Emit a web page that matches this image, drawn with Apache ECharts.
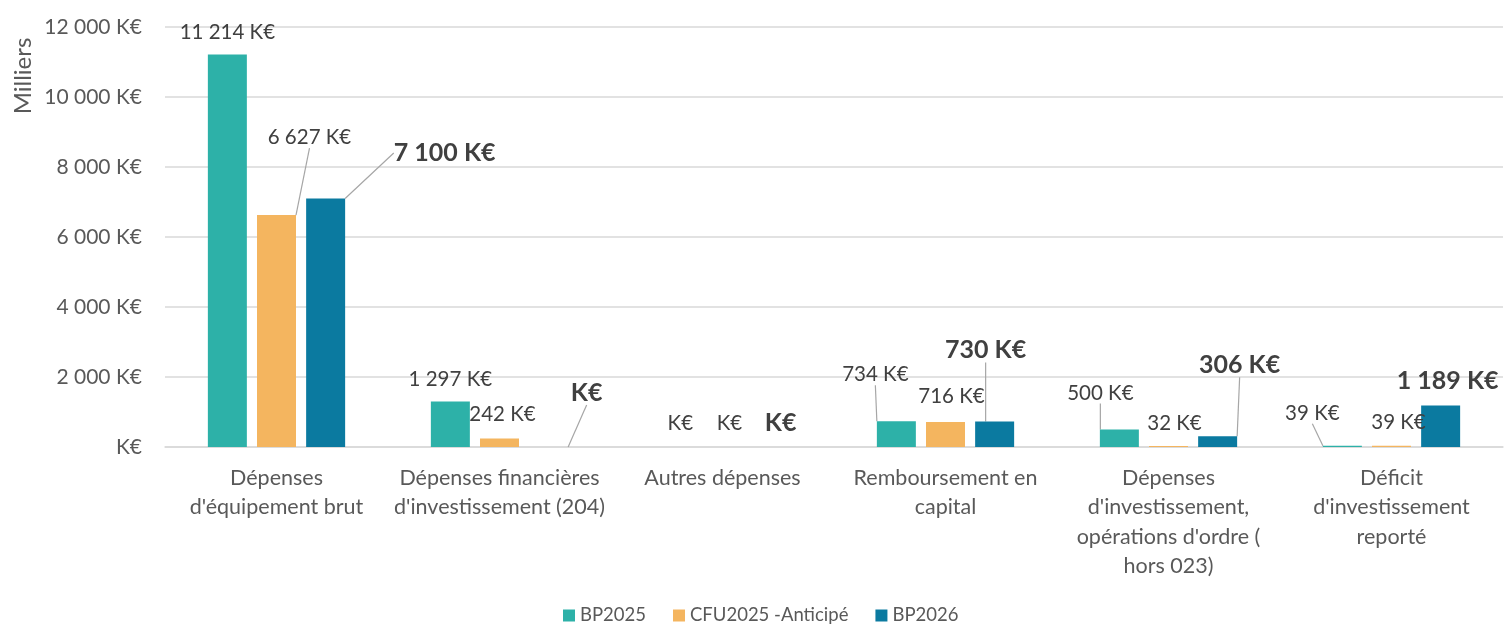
<!DOCTYPE html>
<html><head><meta charset="utf-8">
<script src="https://cdn.jsdelivr.net/npm/echarts@6/dist/echarts.min.js"></script>
<style>html,body{margin:0;padding:0;background:#fff}#c{width:1504px;height:626px}</style>
</head><body><div id="c"></div>
<script>
const categories = [
  "Dépenses\nd'équipement brut",
  "Dépenses financières\nd'investissement (204)",
  "Autres dépenses",
  "Remboursement en\ncapital",
  "Dépenses\nd'investissement,\nopérations d'ordre (\nhors 023)",
  "Déficit\nd'investissement\nreporté"
];
const seriesNames = ["BP2025", "CFU2025 -Anticipé", "BP2026"];
const bp2025 = [11214, 1297, 0, 734, 500, 39];
const cfu2025 = [6627, 242, 0, 716, 32, 39];
const bp2026 = [7100, 0, 0, 730, 306, 1189];
const yTicks = {min: 0, max: 12000, interval: 2000};

// label offsets (style only): [dx, dy, leaderLine]
const labelOffsets = [
  [[0,-7,0],[0,-7,0],[7,-8,0],[-21,-31,1],[-19,-21,1],[-30,-17,1]],
  [[33,-62,1],[3,-9,0],[7,-8,0],[6,-10,0],[6,-7,0],[7,-8,0]],
  [[119,-28,1],[38,-37,1],[9,-7,0],[-9,-54,1],[22,-54,1],[7,-7,0]]
];
const colors = ['#2DB1A8', '#F4B55F', '#0B7AA0'];
const FONT = 'Lato';

function fmt(v) {
  if (v === 0) return 'K€';
  return String(Math.round(v)).replace(/\B(?=(\d{3})+(?!\d))/g, ' ') + ' K€';
}

const values = [bp2025, cfu2025, bp2026];
const series = values.map((arr, si) => ({
  name: seriesNames[si],
  type: 'bar',
  barWidth: 39,
  barGap: '26%',
  itemStyle: {color: colors[si]},
  data: arr.map((v, i) => ({
    value: v,
    labelLine: {show: !!labelOffsets[si][i][2], lineStyle: {color: '#a6a6a6', width: 1.2}}
  })),
  label: {
    show: true, position: 'top', distance: 5,
    formatter: p => fmt(p.value),
    fontFamily: FONT,
    fontSize: si === 2 ? 25 : 20.5,
    fontWeight: si === 2 ? 'bold' : 'normal',
    color: '#404040'
  },
  labelLine: {show: false, lineStyle: {color: '#a6a6a6', width: 1.2}},
  labelLayout: p => ({dx: labelOffsets[si][p.dataIndex][0], dy: labelOffsets[si][p.dataIndex][1]})
}));

const chart = echarts.init(document.getElementById('c'));
chart.setOption({
  animation: false,
  textStyle: {fontFamily: FONT},
  grid: {left: 165, right: 1, top: 27, bottom: 179, containLabel: false},
  legend: {
    top: 601, left: 558, icon: 'rect', itemWidth: 12, itemHeight: 12, itemGap: 27,
    textStyle: {fontFamily: FONT, fontSize: 18.5, color: '#595959'},
    data: seriesNames
  },
  xAxis: {
    type: 'category', data: categories,
    axisTick: {show: false},
    axisLine: {lineStyle: {color: '#d9d9d9', width: 1.5}},
    axisLabel: {interval: 0, fontFamily: FONT, fontSize: 21.5, lineHeight: 29.5, color: '#595959', margin: 16, align: 'center'}
  },
  yAxis: {
    type: 'value', min: yTicks.min, max: yTicks.max, interval: yTicks.interval,
    axisLine: {show: false}, axisTick: {show: false},
    splitLine: {lineStyle: {color: '#d9d9d9', width: 1.5}},
    axisLabel: {formatter: fmt, fontFamily: FONT, fontSize: 21, color: '#595959', margin: 23}
  },
  graphic: [{
    type: 'text', x: 23, y: 76, rotation: Math.PI / 2,
    style: {text: 'Milliers', fontFamily: FONT, fontSize: 24, fill: '#595959', align: 'center', verticalAlign: 'middle'}
  }],
  series: series
});
</script></body></html>
